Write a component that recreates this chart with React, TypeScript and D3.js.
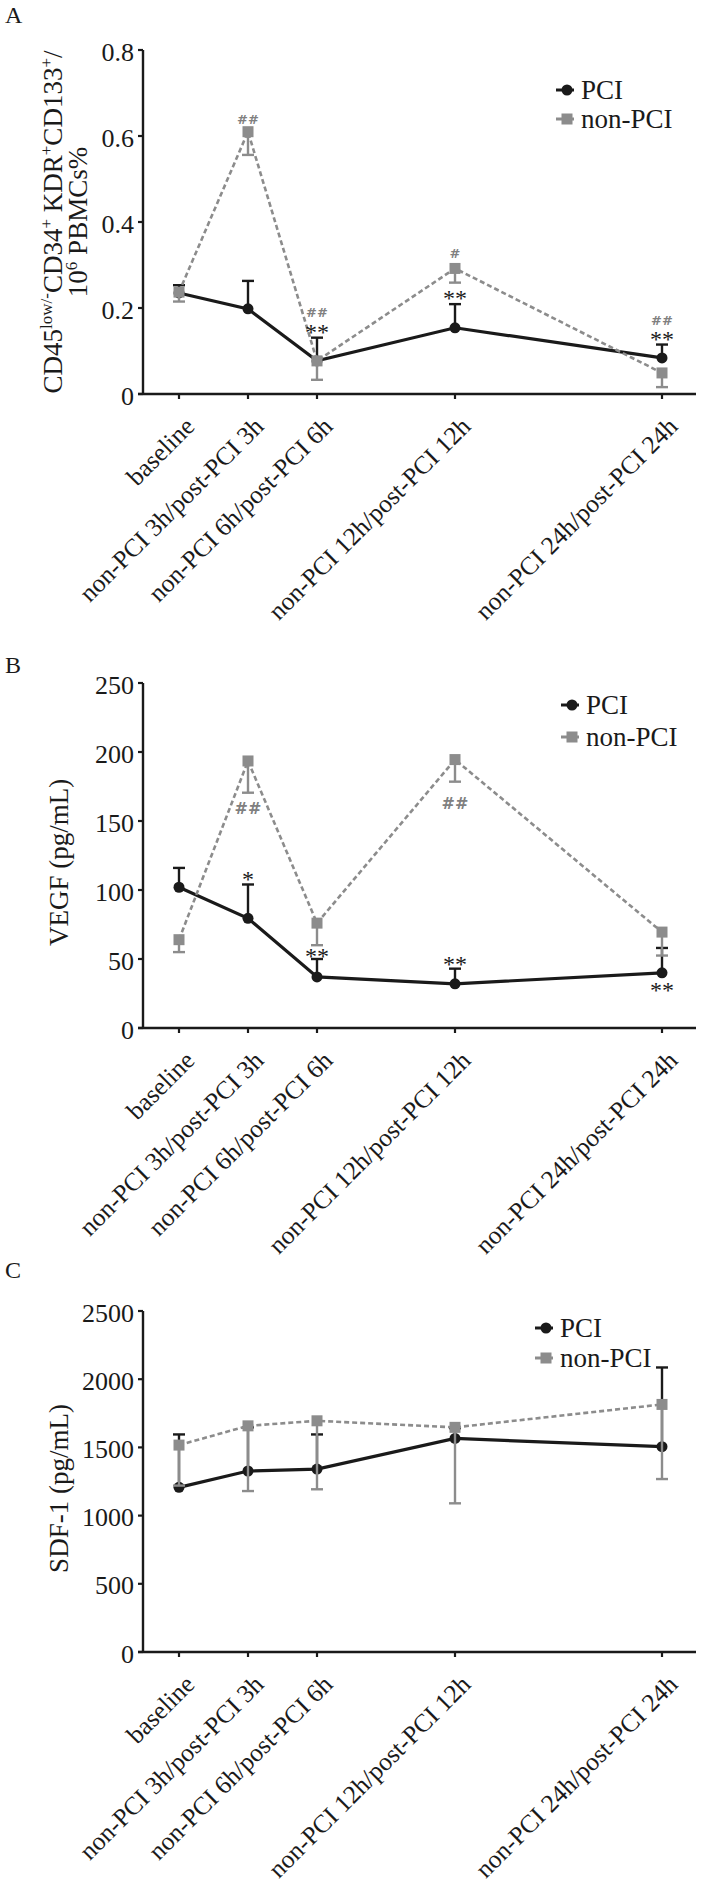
import React from "react";
import * as d3 from "d3";

// ---------- data ----------
const categories = [
  "baseline",
  "non-PCI 3h/post-PCI 3h",
  "non-PCI 6h/post-PCI 6h",
  "non-PCI 12h/post-PCI 12h",
  "non-PCI 24h/post-PCI 24h",
];
const categoryPositions = [0, 1, 2, 4, 7];

const seriesNames = ["PCI", "non-PCI"];

// Panel A: CD45low/-CD34+KDR+CD133+ / 10^6 PBMCs %
const epcPCI = [0.235, 0.198, 0.077, 0.154, 0.084];
const epcPCIErr = [0.018, 0.065, 0.054, 0.055, 0.031];
const epcNonPCI = [0.237, 0.61, 0.077, 0.292, 0.049];
const epcNonPCIErr = [0.022, 0.054, 0.044, 0.033, 0.033];
const epcTicks = [0, 0.2, 0.4, 0.6, 0.8];
// [category index, value, text, series]
const epcSignif: [number, number, string, string][] = [
  [1, 0.639, "##", "n"],
  [2, 0.19, "##", "n"],
  [2, 0.151, "**", "p"],
  [3, 0.327, "#", "n"],
  [3, 0.23, "**", "p"],
  [4, 0.17, "##", "n"],
  [4, 0.135, "**", "p"],
];

// Panel B: VEGF (pg/mL)
const vegfPCI = [102, 79.5, 37, 32, 40];
const vegfPCIErr = [14, 24.5, 13, 11, 18];
const vegfNonPCI = [64, 193.5, 76, 194.5, 69.5];
const vegfNonPCIErr = [9, 23, 16, 16, 17];
const vegfTicks = [0, 50, 100, 150, 200, 250];
const vegfSignif: [number, number, string, string][] = [
  [1, 159, "##", "n"],
  [3, 162.6, "##", "n"],
  [1, 110.4, "*", "p"],
  [2, 54.6, "**", "p"],
  [3, 48.5, "**", "p"],
  [4, 30.3, "**", "p"],
];

// Panel C: SDF-1 (pg/mL)
const sdfPCI = [1207, 1327, 1341, 1566, 1505];
const sdfPCIErr = [388, 320, 254, 75, 581];
const sdfNonPCI = [1517, 1658, 1695, 1647, 1815];
const sdfNonPCIErr = [297, 478, 502, 557, 547];
const sdfTicks = [0, 500, 1000, 1500, 2000, 2500];
const sdfSignif: [number, number, string, string][] = [];

// ---------- style ----------
const BLACK = "#1a1a1a";
const GRAY = "#8c8c8c";
const SERIF = "'Liberation Serif', 'Times New Roman', serif";

const W = 701;
const H = 1885;

const x = d3.scaleLinear().domain([0, 7]).range([179, 662]);
const AXIS_X = 143;
const AXIS_RIGHT = 696;

type PanelCfg = {
  letter: string;
  letterY: number;
  top: number;
  bottom: number;
  domain: [number, number];
  ticks: number[];
  fmt: (d: number) => string;
  pci: number[];
  pciErr: number[];
  non: number[];
  nonErr: number[];
  signif: [number, number, string, string][];
  legendX: number;
  legendY: number;
  legendGap: number;
  title: "epc" | "vegf" | "sdf";
};

const panels: PanelCfg[] = [
  {
    letter: "A",
    letterY: 23,
    top: 50,
    bottom: 394,
    domain: [0, 0.8],
    ticks: epcTicks,
    fmt: (d) => (d === 0 ? "0" : d.toFixed(1)),
    pci: epcPCI,
    pciErr: epcPCIErr,
    non: epcNonPCI,
    nonErr: epcNonPCIErr,
    signif: epcSignif,
    legendX: 556,
    legendY: 90,
    legendGap: 29,
    title: "epc",
  },
  {
    letter: "B",
    letterY: 673,
    top: 683,
    bottom: 1028,
    domain: [0, 250],
    ticks: vegfTicks,
    fmt: (d) => String(d),
    pci: vegfPCI,
    pciErr: vegfPCIErr,
    non: vegfNonPCI,
    nonErr: vegfNonPCIErr,
    signif: vegfSignif,
    legendX: 561,
    legendY: 705,
    legendGap: 32,
    title: "vegf",
  },
  {
    letter: "C",
    letterY: 1278,
    top: 1311,
    bottom: 1652,
    domain: [0, 2500],
    ticks: sdfTicks,
    fmt: (d) => String(d),
    pci: sdfPCI,
    pciErr: sdfPCIErr,
    non: sdfNonPCI,
    nonErr: sdfNonPCIErr,
    signif: sdfSignif,
    legendX: 535,
    legendY: 1328,
    legendGap: 30,
    title: "sdf",
  },
];

function Title({ kind, cy }: { kind: string; cy: number }) {
  const fs = 27;
  const sup = 17;
  if (kind === "epc") {
    return (
      <g fontFamily={SERIF} fontSize={fs} fill={BLACK}>
        <text transform={`translate(62,${cy}) rotate(-90)`} textAnchor="middle">
          <tspan>CD45</tspan>
          <tspan fontSize={sup} dy={-10}>low/-</tspan>
          <tspan dy={10}>CD34</tspan>
          <tspan fontSize={sup} dy={-10}>+</tspan>
          <tspan dy={10}> KDR</tspan>
          <tspan fontSize={sup} dy={-10}>+</tspan>
          <tspan dy={10}>CD133</tspan>
          <tspan fontSize={sup} dy={-10}>+</tspan>
          <tspan dy={10}>/</tspan>
        </text>
        <text transform={`translate(87,${cy}) rotate(-90)`} textAnchor="middle">
          <tspan>10</tspan>
          <tspan fontSize={sup} dy={-10}>6</tspan>
          <tspan dy={10}> PBMCs%</tspan>
        </text>
      </g>
    );
  }
  const label = kind === "vegf" ? "VEGF (pg/mL)" : "SDF-1 (pg/mL)";
  return (
    <text
      transform={`translate(68,${cy}) rotate(-90)`}
      textAnchor="middle"
      fontFamily={SERIF}
      fontSize={fs}
      fill={BLACK}
    >
      {label}
    </text>
  );
}

function Panel({ cfg }: { cfg: PanelCfg }) {
  const y = d3.scaleLinear().domain(cfg.domain).range([cfg.bottom, cfg.top]);
  const line = d3
    .line<number>()
    .x((_, i) => x(categoryPositions[i]))
    .y((d) => y(d));
  const cap = 6;
  const cy = (cfg.top + cfg.bottom) / 2 + (cfg.title === "epc" ? 0 : 7);

  return (
    <g>
      <text x={5} y={cfg.letterY} fontFamily={SERIF} fontSize={24} fill={BLACK}>
        {cfg.letter}
      </text>
      <Title kind={cfg.title} cy={cy} />

      {/* y axis */}
      <line x1={AXIS_X} x2={AXIS_X} y1={cfg.top} y2={cfg.bottom} stroke={BLACK} strokeWidth={2.4} />
      {cfg.ticks.map((t) => (
        <g key={t}>
          <line x1={AXIS_X - 5} x2={AXIS_X} y1={y(t)} y2={y(t)} stroke={BLACK} strokeWidth={2.2} />
          <text
            x={134}
            y={y(t) + 2}
            textAnchor="end"
            dominantBaseline="central"
            fontFamily={SERIF}
            fontSize={26}
            fill={BLACK}
          >
            {cfg.fmt(t)}
          </text>
        </g>
      ))}

      {/* x axis */}
      <line x1={AXIS_X - 5} x2={AXIS_RIGHT} y1={cfg.bottom} y2={cfg.bottom} stroke={BLACK} strokeWidth={2.4} />
      {categories.map((c, i) => {
        const px = x(categoryPositions[i]);
        return (
          <g key={c}>
            <line x1={px} x2={px} y1={cfg.bottom} y2={cfg.bottom + 5} stroke={BLACK} strokeWidth={2.2} />
            <text
              transform={`translate(${px + 17},${cfg.bottom + 34}) rotate(-45)`}
              textAnchor="end"
              fontFamily={SERIF}
              fontSize={25.5}
              fill={BLACK}
            >
              {c}
            </text>
          </g>
        );
      })}

      {/* PCI error bars (upward) */}
      {cfg.pci.map((v, i) => {
        const px = x(categoryPositions[i]);
        const yt = y(v + cfg.pciErr[i]);
        return (
          <g key={"pe" + i} stroke={BLACK} strokeWidth={2.4}>
            <line x1={px} x2={px} y1={y(v)} y2={yt} />
            <line x1={px - cap} x2={px + cap} y1={yt} y2={yt} />
          </g>
        );
      })}
      <path d={line(cfg.pci) || ""} fill="none" stroke={BLACK} strokeWidth={3.2} />
      {cfg.pci.map((v, i) => (
        <circle key={"pc" + i} cx={x(categoryPositions[i])} cy={y(v)} r={5.5} fill={BLACK} />
      ))}

      {/* non-PCI error bars (downward) */}
      {cfg.non.map((v, i) => {
        const px = x(categoryPositions[i]);
        const yb = y(v - cfg.nonErr[i]);
        return (
          <g key={"ne" + i} stroke={GRAY} strokeWidth={2.4}>
            <line x1={px} x2={px} y1={y(v)} y2={yb} />
            <line x1={px - cap} x2={px + cap} y1={yb} y2={yb} />
          </g>
        );
      })}
      <path d={line(cfg.non) || ""} fill="none" stroke={GRAY} strokeWidth={2.6} strokeDasharray="5,3" />
      {cfg.non.map((v, i) => (
        <rect
          key={"nc" + i}
          x={x(categoryPositions[i]) - 5.5}
          y={y(v) - 5.5}
          width={11}
          height={11}
          fill={GRAY}
        />
      ))}

      {/* significance marks */}
      {cfg.signif.map(([ci, v, t, s], k) =>
        s === "n" ? (
          <text
            key={"s" + k}
            x={x(categoryPositions[ci])}
            y={y(v)}
            textAnchor="middle"
            dominantBaseline="central"
            fontFamily="'DejaVu Sans', sans-serif"
            fontWeight="bold"
            fontSize={cfg.title === "epc" ? 13 : 16}
            fill="#808080"
          >
            {t}
          </text>
        ) : (
          <text
            key={"s" + k}
            x={x(categoryPositions[ci])}
            y={y(v)}
            dy="0.14em"
            textAnchor="middle"
            dominantBaseline="central"
            fontFamily={SERIF}
            fontSize={24}
            fill={BLACK}
          >
            {t}
          </text>
        )
      )}

      {/* legend */}
      <g>
        <line
          x1={cfg.legendX}
          x2={cfg.legendX + 18}
          y1={cfg.legendY}
          y2={cfg.legendY}
          stroke={BLACK}
          strokeWidth={3}
        />
        <circle cx={cfg.legendX + 11} cy={cfg.legendY} r={5.5} fill={BLACK} />
        <text
          x={cfg.legendX + 25}
          y={cfg.legendY}
          dominantBaseline="central"
          fontFamily={SERIF}
          fontSize={27}
          fill={BLACK}
        >
          {seriesNames[0]}
        </text>
        <line
          x1={cfg.legendX}
          x2={cfg.legendX + 18}
          y1={cfg.legendY + cfg.legendGap}
          y2={cfg.legendY + cfg.legendGap}
          stroke={GRAY}
          strokeWidth={3}
        />
        <rect
          x={cfg.legendX + 5.5}
          y={cfg.legendY + cfg.legendGap - 5.5}
          width={11}
          height={11}
          fill={GRAY}
        />
        <text
          x={cfg.legendX + 25}
          y={cfg.legendY + cfg.legendGap}
          dominantBaseline="central"
          fontFamily={SERIF}
          fontSize={27}
          fill={BLACK}
        >
          {seriesNames[1]}
        </text>
      </g>
    </g>
  );
}

export default function App() {
  return (
    <div style={{ position: "absolute", left: 0, top: 0, background: "#fff" }}>
      <svg width={W} height={H} viewBox={`0 0 ${W} ${H}`} style={{ display: "block", background: "#fff" }}>
        {panels.map((p) => (
          <Panel key={p.letter} cfg={p} />
        ))}
      </svg>
    </div>
  );
}
